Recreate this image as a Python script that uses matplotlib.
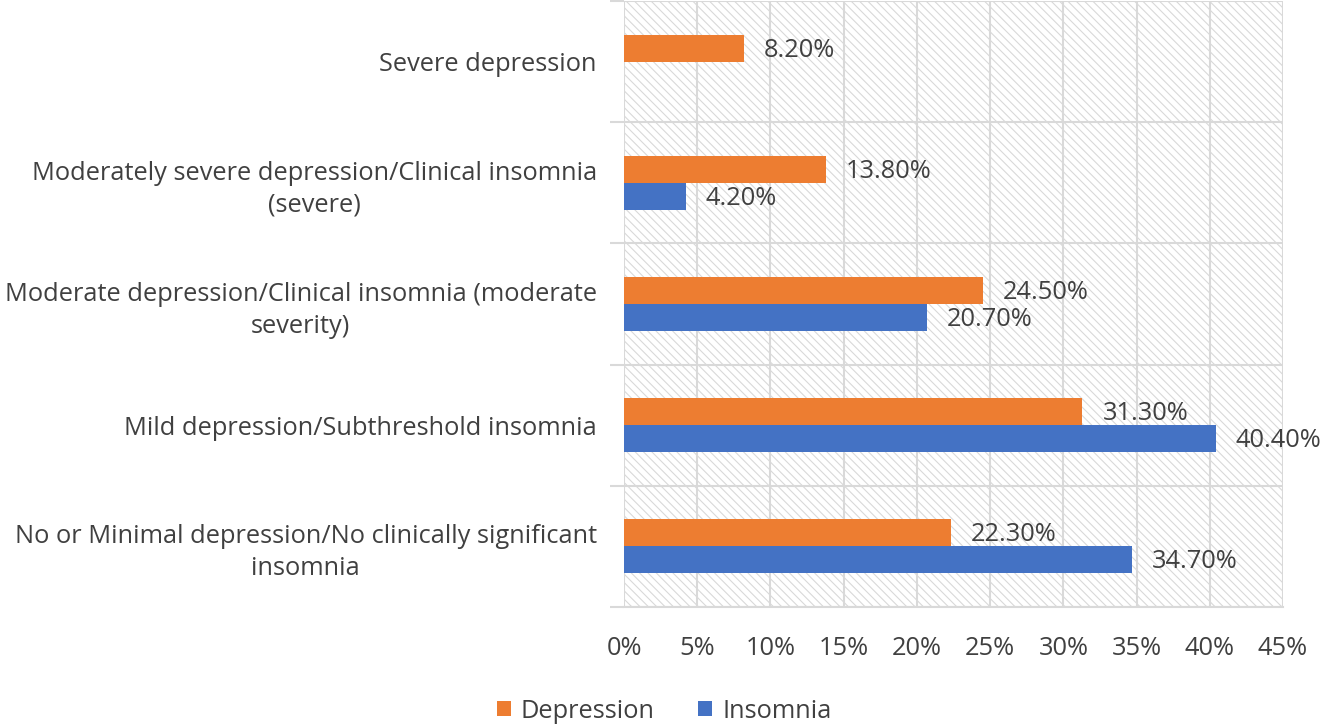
import matplotlib
matplotlib.use("Agg")
import matplotlib.pyplot as plt
from matplotlib.patches import Rectangle
from matplotlib.ticker import FuncFormatter
import numpy as np

categories = [
    "Severe depression",
    "Moderately severe depression/Clinical insomnia\n(severe)",
    "Moderate depression/Clinical insomnia (moderate\nseverity)",
    "Mild depression/Subthreshold insomnia",
    "No or Minimal depression/No clinically significant\ninsomnia",
]
depression = [8.2, 13.8, 24.5, 31.3, 22.3]
insomnia = [None, 4.2, 20.7, 40.4, 34.7]
xticks = [0, 5, 10, 15, 20, 25, 30, 35, 40, 45]

ORANGE = "#ED7D31"
BLUE = "#4472C4"
GRID = "#d9d9d9"
TEXT = "#404040"

plt.rcParams['font.family'] = ['Open Sans', 'DejaVu Sans']
plt.rcParams['hatch.color'] = GRID
plt.rcParams['hatch.linewidth'] = 0.8

fig = plt.figure(figsize=(13.23, 7.25), dpi=100)
ax = fig.add_axes([624/1323, 1 - 607/725, (1283-624)/1323, 606/725])

# hatched background
bg = Rectangle((0, 0), 1, 1, transform=ax.transAxes, facecolor="white",
               edgecolor=GRID, hatch="\\\\\\\\", linewidth=0, zorder=0)
ax.add_patch(bg)

n = len(categories)
y = np.arange(n)
h = 0.222
dep_y = y - h/2
ins_y = y + h/2
ax.barh(dep_y, depression, height=h, color=ORANGE, zorder=3, label="Depression")
ins_vals = [v if v is not None else 0 for v in insomnia]
ax.barh(ins_y, ins_vals, height=h, color=BLUE, zorder=3, label="Insomnia")

fs = 18.3
for yy, v in zip(dep_y, depression):
    ax.annotate(f"{v:.2f}%", (v, yy), xytext=(20, -2), textcoords="offset pixels",
                va="center", ha="left", fontsize=fs, color=TEXT, zorder=4)
for yy, v in zip(ins_y, insomnia):
    if v is None:
        continue
    ax.annotate(f"{v:.2f}%", (v, yy), xytext=(20, -2), textcoords="offset pixels",
                va="center", ha="left", fontsize=fs, color=TEXT, zorder=4)

ax.set_xlim(0, 45)
ax.set_ylim(n - 0.5, -0.5)
ax.set_xticks(xticks)
ax.xaxis.set_major_formatter(FuncFormatter(lambda v, p: f"{v:.0f}%"))
ax.tick_params(axis="x", length=0, pad=21, labelsize=fs, labelcolor=TEXT)

ax.set_yticks(y)
ax.set_yticklabels(categories, fontsize=fs, color=TEXT, multialignment="center",
                   linespacing=1.35)
ax.tick_params(axis="y", length=0, pad=19.5)
ax.set_yticks(np.arange(n + 1) - 0.5, minor=True)
ax.tick_params(axis="y", which="minor", length=10, width=1.5, color=GRID)

ax.grid(axis="x", color=GRID, linewidth=1.5, zorder=1)
ax.grid(axis="y", which="minor", color=GRID, linewidth=1.5, zorder=1)
ax.grid(axis="y", which="major", visible=False)
ax.set_axisbelow(True)

for s in ["top", "right", "left"]:
    ax.spines[s].set_visible(False)
ax.spines["bottom"].set_color(GRID)
ax.spines["bottom"].set_linewidth(1.5)

handles, labels = ax.get_legend_handles_labels()
fig.legend(handles, labels, loc="center", bbox_to_anchor=(664/1323, 1 - 711/725),
           ncol=2, frameon=False, fontsize=fs, labelcolor=TEXT,
           handlelength=0.55, handleheight=0.55, handletextpad=0.4, columnspacing=1.7)

fig.savefig("out.png", dpi=100)
